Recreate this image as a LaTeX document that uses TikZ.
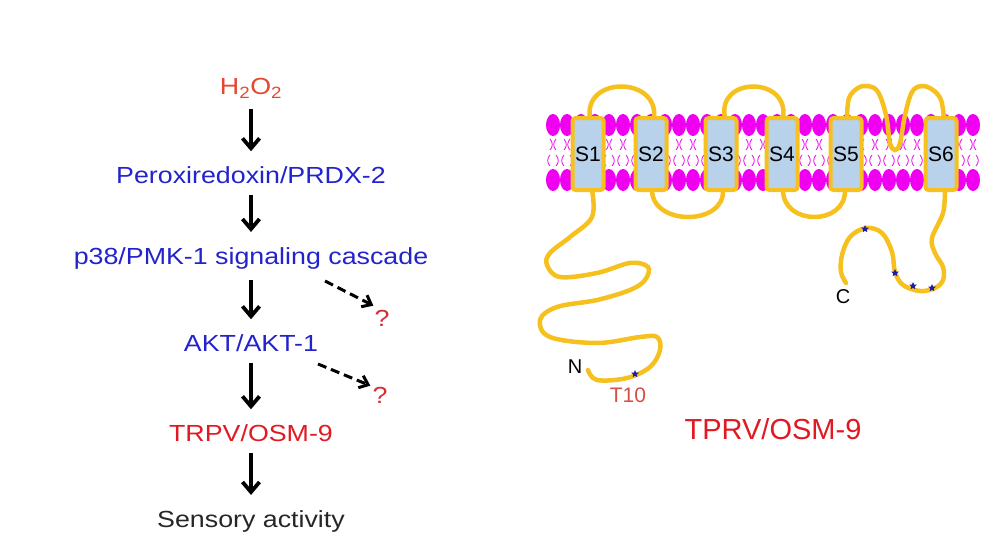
\documentclass[tikz,border=0pt]{standalone}
\usepackage{fontspec}
\setmainfont{Liberation Sans}[FakeStretch=1.15]
\newfontfamily\plainsans{Liberation Sans}
\usetikzlibrary{arrows.meta,shapes.geometric}
\definecolor{hred}{RGB}{230,70,45}
\definecolor{pblue}{RGB}{35,35,205}
\definecolor{tred}{RGB}{225,25,35}
\definecolor{qred}{RGB}{215,45,50}
\definecolor{salmon}{RGB}{210,80,70}
\definecolor{gold}{RGB}{246,192,30}
\definecolor{helixblue}{RGB}{184,210,235}
\definecolor{lipid}{RGB}{240,0,240}
\definecolor{starblue}{RGB}{30,30,170}
\tikzset{
  lbl/.style={inner sep=0pt, font=\fontsize{23.3}{28}\selectfont},
  flow/.style={-{Straight Barb[length=10pt,width=17pt]}, line width=3.8pt,
    shorten <=11pt, shorten >=15pt},
  maybe/.style={-{Straight Barb[length=8pt,width=13pt]}, line width=3pt,
    dash pattern=on 9pt off 5pt},
  helix/.style={draw=gold, line width=4pt, fill=helixblue, rounded corners=3pt,
    minimum width=31pt, minimum height=72pt, inner sep=0pt,
    font=\plainsans\fontsize{21}{24}\selectfont},
  chain/.style={draw=gold, line width=4.5pt, line cap=round},
  phos/.style={star, star points=5, star point ratio=2.2, fill=starblue,
    minimum size=8pt, inner sep=0pt},
  tail/.style={draw=lipid, line width=0.8pt}
}
\begin{document}
\begin{tikzpicture}[x=1pt,y=-1pt]
  \useasboundingbox (0,0) rectangle (995,554);
  % pathway
  \node[lbl, text=hred] (h2o2) at (251,88) {H\textsubscript{2}O\textsubscript{2}};
  \node[lbl, text=pblue] (prdx) at (251,175) {Peroxiredoxin/PRDX-2};
  \node[lbl, text=pblue] (pmk) at (251,258) {p38/PMK-1 signaling cascade};
  \node[lbl, text=pblue] (akt) at (251,343) {AKT/AKT-1};
  \node[lbl, text=tred] (trpv) at (251,433) {TRPV/OSM-9};
  \node[lbl, text=black!85] (sensory) at (251,521) {Sensory activity};
  \node[lbl, text=qred] (q1) at (382,318) {?};
  \node[lbl, text=qred] (q2) at (380,395) {?};
  \coordinate (d1) at (325,281);
  \coordinate (d2) at (318,364);
  \draw[flow] (h2o2) -- (prdx);
  \draw[flow] (prdx) -- (pmk);
  \draw[flow] (pmk) -- (akt);
  \draw[flow] (akt) -- (trpv);
  \draw[flow] (trpv) -- (sensory);
  \draw[maybe] (d1) -- ([shift={(-1,-4)}]q1.north west);
  \draw[maybe] (d2) -- ([shift={(-2,-1)}]q2.north west);
  % membrane
  \foreach \x in {553,567,...,973} {
    \fill[lipid] (\x,125) ellipse (7 and 11);
    \fill[lipid] (\x,180) ellipse (7 and 11);
    \draw[tail] (\x-3,139) to[bend left=45] (\x-3,150);
    \draw[tail] (\x+3,139) to[bend right=45] (\x+3,150);
    \draw[tail] (\x-3,155) to[bend right=45] (\x-3,166);
    \draw[tail] (\x+3,155) to[bend left=45] (\x+3,166);
  }
  % loops and tails
  \coordinate (dip) at (895,150);
  \draw[chain] (590,118) .. controls (583,76) and (659,76) .. (654,118);
  \draw[chain] (725,118) .. controls (716,76) and (790,76) .. (783,118);
  \draw[chain] plot[smooth, tension=0.6] coordinates {(847,118) (849,98) (858,88)
    (868,86) (878,92) (886,115) (890,143) (dip) (900,143) (905,115) (912,92)
    (922,86) (933,90) (941,100) (944,118)};
  \draw[chain] (652,190) .. controls (652,226) and (725,226) .. (723,190);
  \draw[chain] (783,190) .. controls (783,226) and (846,226) .. (845,190);
  \draw[chain] plot[smooth, tension=0.6] coordinates {(592,190) (592,217) (570,237)
    (550,253) (547,265) (560,277) (597,273) (630,263) (648,267) (645,280)
    (630,290) (597,300) (557,307) (540,320) (550,337) (597,343) (640,337)
    (657,337) (660,350) (650,367) (627,378) (597,380) (588,370)};
  \draw[chain] plot[smooth, tension=0.6] coordinates {(945,190) (943,213) (932,238)
    (935,253) (943,267) (943,280) (935,288) (920,291) (903,285) (895,272)
    (892,252) (882,233) (866,228) (850,237) (842,255) (841,272) (846,283)};
  % helices
  \foreach \x/\n in {588/1,651/2,721/3,782/4,846/5,941/6}
    \node[helix] (s\n) at (\x,154) {S\n};
  % sites
  \node[phos] (p1) at (635,374) {};
  \node[phos] (p2) at (865,229) {};
  \node[phos] (p3) at (895,273) {};
  \node[phos] (p4) at (913,286) {};
  \node[phos] (p5) at (932,288) {};
  \node[font=\plainsans\fontsize{20}{24}\selectfont] (nterm) at (575,367) {N};
  \node[font=\plainsans\fontsize{20}{24}\selectfont] (cterm) at (843,297) {C};
  \node[font=\plainsans\fontsize{21}{24}\selectfont, text=salmon] (t10) at (628,395) {T10};
  \node[font=\plainsans\fontsize{29}{34}\selectfont, text=tred] (title) at (773,429) {TPRV/OSM-9};
\end{tikzpicture}
\end{document}
